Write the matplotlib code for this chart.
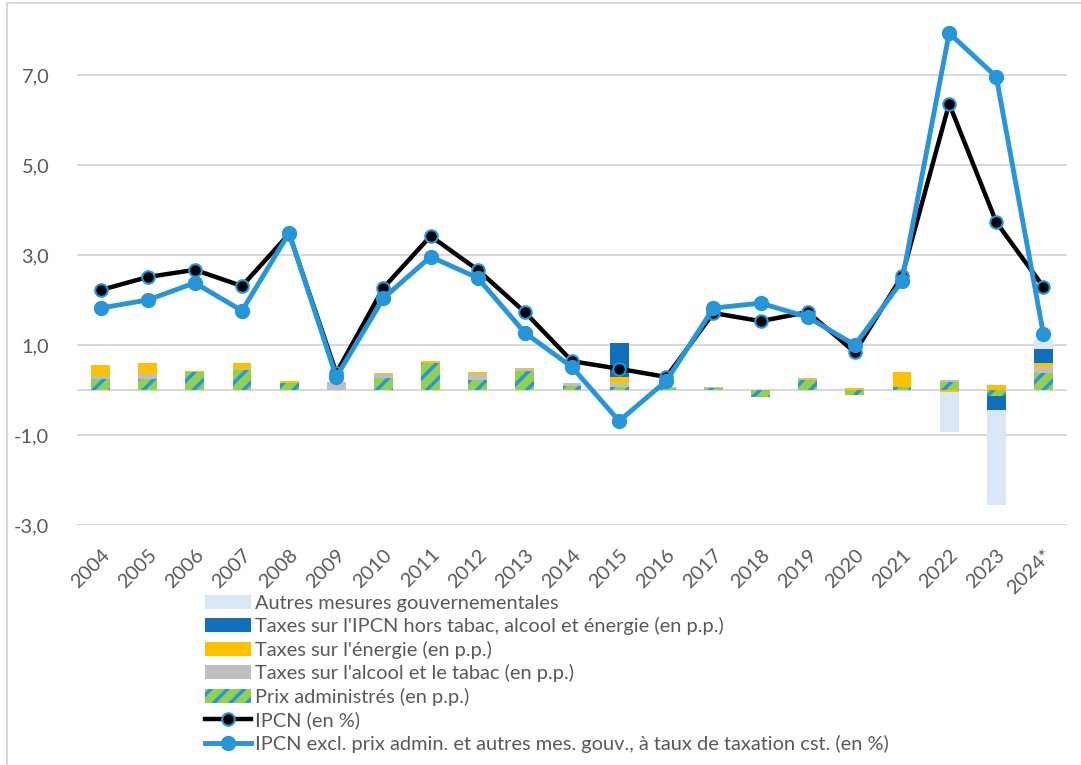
import numpy as np
import matplotlib
matplotlib.use("Agg")
from matplotlib import pyplot as plt
from matplotlib.patches import Rectangle

plt.rcParams['font.family'] = ['Lato', 'DejaVu Sans']
plt.rcParams['hatch.linewidth'] = 2.5

years = ["2004", "2005", "2006", "2007", "2008", "2009", "2010", "2011", "2012", "2013", "2014",
         "2015", "2016", "2017", "2018", "2019", "2020", "2021", "2022", "2023", "2024*"]

# contributions (en p.p.)
admin = [0.24, 0.25, 0.39, 0.45, 0.16, 0.0, 0.26, 0.61, 0.22, 0.42, 0.09,
         0.06, 0.04, 0.04, -0.15, 0.22, -0.11, 0.07, 0.18, -0.13, 0.37]
alcool = [0.06, 0.10, 0.0, 0.02, 0.0, 0.17, 0.09, 0.0, 0.13, 0.05, 0.07,
          0.10, 0.03, 0.02, 0.0, 0.02, 0.0, 0.0, 0.04, 0.0, 0.13]
energie = [0.26, 0.25, 0.03, 0.13, 0.03, 0.0, 0.03, 0.04, 0.05, 0.02, 0.0,
           0.12, 0.0, 0.0, 0.0, 0.03, 0.04, 0.33, -0.05, 0.11, 0.11]
taxes_ipcn = [0, 0, 0, 0, 0, 0, 0, 0, 0, 0, 0,
              0.77, 0, 0, 0, 0, 0, 0, 0, -0.32, 0.31]
autres = [0, 0, 0, 0, 0, 0, 0, 0, 0, 0, 0,
          0, 0, 0, 0, 0, 0, 0, -0.88, -2.10, 0.19]

ipcn = [2.22, 2.51, 2.67, 2.31, 3.47, 0.38, 2.27, 3.42, 2.67, 1.73, 0.64,
        0.47, 0.29, 1.71, 1.53, 1.73, 0.84, 2.53, 6.36, 3.73, 2.29]
ipcn_excl = [1.82, 2.00, 2.38, 1.76, 3.49, 0.29, 2.04, 2.96, 2.49, 1.27, 0.51,
             -0.69, 0.20, 1.82, 1.93, 1.62, 1.00, 2.42, 7.93, 6.96, 1.24]

grey_txt = "#595959"
blue = "#2596d9"

fig = plt.figure(figsize=(10.81, 7.65), dpi=100)
ax = fig.add_axes([77/1081, 1 - 525/765, (1067 - 77)/1081, (525 - 7)/765])

x = np.arange(len(years))
w = 0.4
pos = np.zeros(len(years))
neg = np.zeros(len(years))

series = [
    (admin, "Prix administrés (en p.p.)", dict(color="#92d050", edgecolor=blue, hatch="//")),
    (alcool, "Taxes sur l'alcool et le tabac (en p.p.)", dict(color="#bfbfbf")),
    (energie, "Taxes sur l'énergie (en p.p.)", dict(color="#ffc000")),
    (taxes_ipcn, "Taxes sur l'IPCN hors tabac, alcool et énergie (en p.p.)", dict(color="#0f6fba")),
    (autres, "Autres mesures gouvernementales", dict(color="#dae7f4")),
]
handles = {}
for vals, lab, style in series:
    v = np.array(vals)
    bottom = np.where(v >= 0, pos, neg)
    b = ax.bar(x, v, w, bottom=bottom, linewidth=0, label=lab, zorder=2, **style)
    pos = pos + np.where(v >= 0, v, 0)
    neg = neg + np.where(v < 0, v, 0)
    handles[lab] = b

l1, = ax.plot(x, ipcn, color="black", lw=3.2, marker="o", ms=9, mfc="black",
              mec=blue, mew=1.5, zorder=3, label="IPCN (en %)")
l2, = ax.plot(x, ipcn_excl, color=blue, lw=3.5, marker="o", ms=10, zorder=4,
              label="IPCN excl. prix admin. et autres mes. gouv., à taux de taxation cst. (en %)")

ax.set_xlim(-0.5, len(years) - 0.5)
ax.set_ylim(-3, 8.51)
ax.set_yticks([-3, -1, 1, 3, 5, 7])
ax.set_yticklabels(["-3,0", "-1,0", "1,0", "3,0", "5,0", "7,0"])
ax.set_xticks(x)
ax.set_xticklabels(years, rotation=45, ha="right", rotation_mode="anchor")
ax.tick_params(axis="both", length=0, colors=grey_txt, labelsize=14.4)
ax.tick_params(axis="y", pad=20)
ax.tick_params(axis="x", pad=15)
ax.grid(axis="y", color="#d9d9d9", lw=1.5, zorder=0)
ax.axhline(0, color="#d9d9d9", lw=1.5, zorder=1)
for s in ax.spines.values():
    s.set_visible(False)

# chart area border (cropped on the right and bottom)
fig.patches.append(Rectangle((7/1081, -0.1), 1.0, 1.1 - 3/765, transform=fig.transFigure,
                             fill=False, edgecolor="#d9d9d9", lw=1.5))

order = ["Autres mesures gouvernementales",
         "Taxes sur l'IPCN hors tabac, alcool et énergie (en p.p.)",
         "Taxes sur l'énergie (en p.p.)",
         "Taxes sur l'alcool et le tabac (en p.p.)",
         "Prix administrés (en p.p.)"]
leg = fig.legend([handles[k] for k in order] + [l1, l2], order + [l1.get_label(), l2.get_label()],
                 loc="upper left", bbox_to_anchor=(205/1081, 1 - 595/765), frameon=False,
                 fontsize=14.4, handlelength=2.3, handleheight=0.7, handletextpad=0.2,
                 labelspacing=0.27, borderpad=0, borderaxespad=0)
for t in leg.get_texts():
    t.set_color(grey_txt)

fig.savefig("out.png", dpi=100)
